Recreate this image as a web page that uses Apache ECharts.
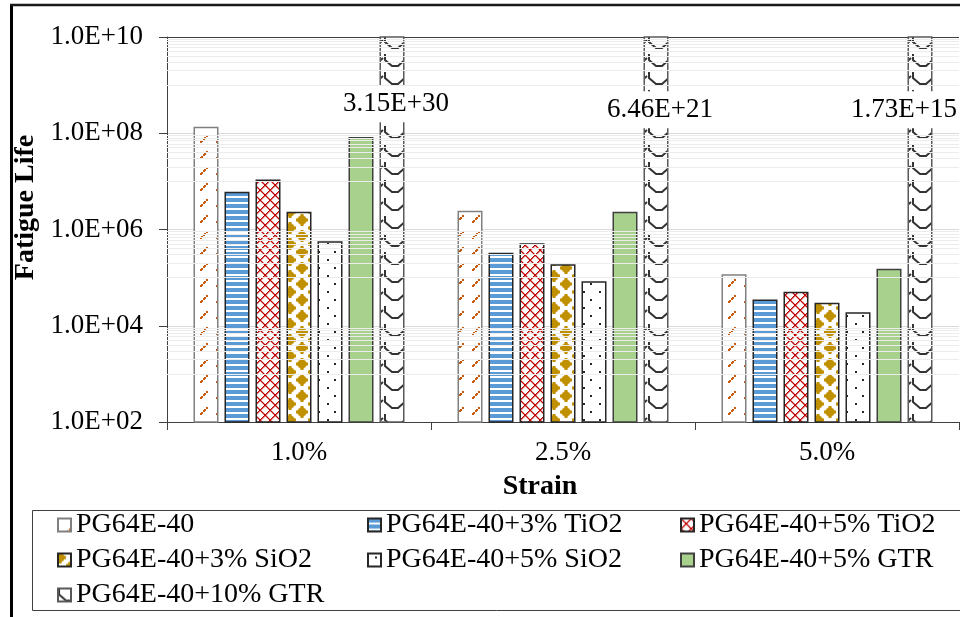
<!DOCTYPE html>
<html>
<head>
<meta charset="utf-8">
<script src="https://cdn.jsdelivr.net/npm/echarts@6/dist/echarts.min.js"></script>
<style>
  html, body { margin: 0; padding: 0; background: #fff; }
  #chart { width: 960px; height: 617px; }
</style>
</head>
<body>
<div id="chart"></div>
<script>
// Fatigue life of modified PG64E-40 binders at three strain levels
const strainLevels = ['1.0%', '2.5%', '5.0%'];
const binderNames = [
  'PG64E-40',
  'PG64E-40+3% TiO2',
  'PG64E-40+5% TiO2',
  'PG64E-40+3% SiO2',
  'PG64E-40+5% SiO2',
  'PG64E-40+5% GTR',
  'PG64E-40+10% GTR'
];
const lifeBase    = [1.37e8, 2.46e6, 1.17e5];
const lifeTiO2_3  = [6.1e6, 3.3e5, 3.5e4];
const lifeTiO2_5  = [1.1e7, 5.2e5, 5.1e4];
const lifeSiO2_3  = [2.35e6, 1.9e5, 3.0e4];
const lifeSiO2_5  = [5.7e5, 8.4e4, 1.9e4];
const lifeGTR_5   = [8.4e7, 2.35e6, 1.53e5];
const lifeGTR_10  = [3.15e30, 6.46e21, 1.73e15];
const yRange = [1e2, 1e10];
const minorDecades = [3, 5, 7, 9];

const serif = '"Liberation Serif", "Times New Roman", serif';

function sci(v, digits) {
  const parts = Number(v).toExponential(digits).split('e');
  const n = parseInt(parts[1], 10);
  return parts[0] + 'E' + (n < 0 ? '-' : '+') + String(Math.abs(n)).padStart(2, '0');
}

// ---- fill patterns ----
function tile(w, h, draw) {
  const c = document.createElement('canvas');
  c.width = w; c.height = h;
  const g = c.getContext('2d');
  g.fillStyle = '#ffffff';
  g.fillRect(0, 0, w, h);
  draw(g, w, h);
  return { image: c, repeat: 'repeat' };
}

const dashFill = tile(16, 16, g => {
  g.fillStyle = '#c55a11';
  for (let i = 0; i < 7; i++) {
    if (i % 3 === 2) continue;
    g.fillRect(8 + i, 13 - i, 2, 2);
  }
});

const stripeFill = tile(6, 6, g => {
  g.fillStyle = '#5b9bd5';
  g.fillRect(0, 0, 6, 4);
});

const latticeFill = tile(10, 10, g => {
  g.fillStyle = '#c00000';
  for (let i = 0; i < 10; i++) {
    g.fillRect(i, i, 1.4, 1.4);
    g.fillRect(9 - i, i, 1.4, 1.4);
  }
});

const blobFill = tile(24, 16, (g, w, h) => {
  g.fillStyle = '#bf9000';
  const blob = (cx, cy) => {
    g.beginPath();
    g.moveTo(cx, cy - 6); g.lineTo(cx + 6, cy); g.lineTo(cx, cy + 6); g.lineTo(cx - 6, cy);
    g.closePath(); g.fill();
    g.fillRect(cx - 3.5, cy - 3.5, 7, 7);
    g.fillRect(cx - 1.5, cy - 6, 3, 12);
    g.fillRect(cx - 6, cy - 1.5, 12, 3);
  };
  for (const dx of [-w, 0, w]) {
    for (const dy of [-h, 0, h]) {
      blob(14 + dx, 12 + dy);
      blob(2 + dx, 4 + dy);
    }
  }
});

const dotFill = tile(16, 16, g => {
  g.fillStyle = '#262626';
  g.fillRect(7, 3, 2, 2);
  g.fillRect(14, 11, 2, 2);
});

const zigzagFill = tile(24, 18, g => {
  g.strokeStyle = '#333333';
  g.lineWidth = 2;
  g.lineJoin = 'miter';
  for (const dy of [-18, 0, 18]) {
    g.beginPath();
    g.moveTo(1, 0 + dy); g.lineTo(1, 6 + dy); g.lineTo(8, 12 + dy);
    g.lineTo(14, 12 + dy); g.lineTo(23, 4 + dy);
    g.stroke();
  }
});

const seriesValues = [lifeBase, lifeTiO2_3, lifeTiO2_5, lifeSiO2_3, lifeSiO2_5, lifeGTR_5, lifeGTR_10];
const seriesFills = [dashFill, stripeFill, latticeFill, blobFill, dotFill, '#a9d18e', zigzagFill];
const seriesBorders = ['#808080', '#262626', '#262626', '#262626', '#262626', '#404040', '#595959'];

// value tags on the off-scale 10% GTR bars
const tagDrop = [49, 55, 55];
const tagShift = [4, 4, -16];

const minorGrid = [];
minorDecades.forEach(n => {
  for (let k = 1; k <= 9; k++) minorGrid.push(k * Math.pow(10, n));
});

const series = binderNames.map((name, i) => {
  const s = {
    name,
    type: 'bar',
    barWidth: 25,
    barGap: '24%',
    z: 2,
    itemStyle: { color: seriesFills[i], borderColor: seriesBorders[i], borderWidth: 1.5 },
    data: seriesValues[i].slice()
  };
  if (i === binderNames.length - 1) {
    s.label = {
      show: true,
      position: 'insideTop',
      formatter: p => sci(p.value, 2),
      fontFamily: serif,
      fontSize: 27,
      lineHeight: 27,
      color: '#000',
      backgroundColor: '#ffffff',
      padding: [5, 3]
    };
    s.data = seriesValues[i].map((v, j) => ({
      value: v,
      label: { distance: tagDrop[j], offset: [tagShift[j], 0] }
    }));
  }
  return s;
});

// light minor gridlines beneath the bars
series.push({
  name: 'minor-grid',
  type: 'line',
  data: [],
  z: 1,
  silent: true,
  markLine: {
    silent: true,
    symbol: ['none', 'none'],
    label: { show: false },
    lineStyle: { color: '#ececec', type: 'solid', width: 1 },
    emphasis: { disabled: true },
    data: minorGrid.map(v => ({ yAxis: v }))
  }
});

const legendColumns = [[0, 3, 6], [1, 4], [2, 5]];
const legendLeft = [57, 367, 680];

const option = {
  animation: false,
  backgroundColor: '#ffffff',
  textStyle: { fontFamily: serif },
  grid: { left: 167, right: 1, top: 37, bottom: 195 },
  xAxis: {
    type: 'category',
    data: strainLevels,
    name: 'Strain',
    nameLocation: 'middle',
    nameGap: 51,
    nameTextStyle: { fontFamily: serif, fontSize: 28, fontWeight: 'bold', color: '#000', padding: [0, 46, 0, 0] },
    axisLine: { lineStyle: { color: '#404040', width: 1 } },
    axisTick: { show: true, alignWithLabel: false, length: 8, lineStyle: { color: '#404040' } },
    axisLabel: { margin: 17, fontFamily: serif, fontSize: 27, color: '#000' },
    splitLine: { show: false }
  },
  yAxis: {
    type: 'log',
    logBase: 10,
    min: yRange[0],
    max: yRange[1],
    interval: 2,
    name: 'Fatigue Life',
    nameLocation: 'middle',
    nameRotate: 90,
    nameGap: 123,
    nameTextStyle: { fontFamily: serif, fontSize: 28, fontWeight: 'bold', color: '#000', padding: [0, 0, 0, 44] },
    axisLine: { show: true, lineStyle: { color: '#404040', width: 1 } },
    axisTick: { show: true, length: 8, lineStyle: { color: '#404040' } },
    axisLabel: { margin: 24, fontFamily: serif, fontSize: 27, color: '#000', formatter: v => sci(v, 1) },
    splitLine: { show: true, lineStyle: { color: ['#d9d9d9', '#d9d9d9', '#d9d9d9', '#d9d9d9', '#404040'], width: 1 } },
    minorSplitLine: { show: false }
  },
  legend: legendColumns.map((cols, k) => ({
    data: cols.map(i => binderNames[i]),
    orient: 'vertical',
    left: legendLeft[k],
    top: 511,
    padding: 0,
    height: 104,
    icon: 'rect',
    itemWidth: 13,
    itemHeight: 13,
    itemGap: 7,
    selectedMode: false,
    textStyle: { fontFamily: serif, fontSize: 28, lineHeight: 27, color: '#000' }
  })),
  graphic: [
    { type: 'rect', silent: true, shape: { x: 32.5, y: 510.5, width: 940, height: 100 },
      style: { fill: 'none', stroke: '#404040', lineWidth: 1 } },
    { type: 'line', silent: true, shape: { x1: 11.5, y1: 4, x2: 11.5, y2: 617 },
      style: { stroke: '#000', lineWidth: 3 } },
    { type: 'line', silent: true, shape: { x1: 10, y1: 5, x2: 960, y2: 5 },
      style: { stroke: '#1a1a1a', lineWidth: 2.5 } }
  ],
  series
};

const chart = echarts.init(document.getElementById('chart'), null, { renderer: 'canvas' });
chart.setOption(option);
</script>
</body>
</html>
